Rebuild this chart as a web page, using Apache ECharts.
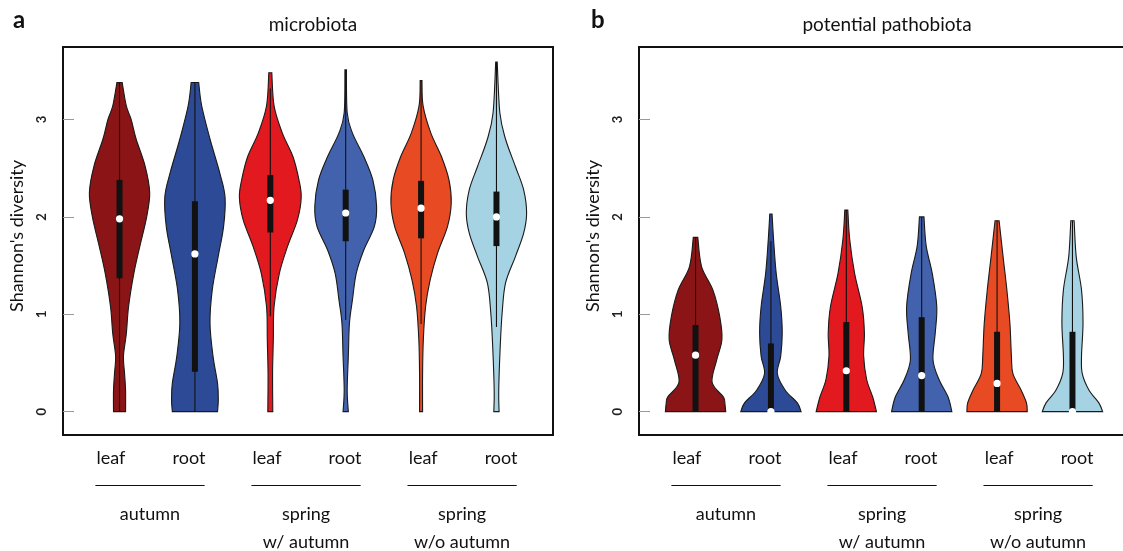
<!DOCTYPE html>
<html>
<head>
<meta charset="utf-8">
<script src="https://cdn.jsdelivr.net/npm/echarts@6/dist/echarts.min.js"></script>
<style>
html,body{margin:0;padding:0;background:#fff;}
#chart{width:1123px;height:551px;}
</style>
</head>
<body>
<div id="chart"></div>
<script>
// ---------- data ----------
const tissues = ['leaf', 'root', 'leaf', 'root', 'leaf', 'root'];
const groups = ['autumn', 'spring\nw/ autumn', 'spring\nw/o autumn'];
const yTicks = [0, 1, 2, 3];
const violinColors = ['#8B1516', '#2C4A96', '#E2191E', '#4262AD', '#E84A23', '#A6D3E3'];

// density profiles: [Shannon value, half-width in category units]
const microbiotaProfiles = [
  [[0,0.08],[0.22,0.08],[0.4,0.066],[0.57,0.052],[0.8,0.09],[1.08,0.12],[1.42,0.19],[1.7,0.27],[2.0,0.36],[2.25,0.40],[2.52,0.34],[2.8,0.22],[3.0,0.155],[3.14,0.09],[3.38,0.035]],
  [[0,0.30],[0.12,0.31],[0.29,0.30],[0.57,0.24],[0.91,0.20],[1.25,0.23],[1.6,0.31],[1.9,0.38],[2.2,0.40],[2.45,0.33],[2.8,0.20],[3.14,0.09],[3.38,0.05]],
  [[0,0.033],[0.39,0.03],[0.74,0.04],[1.08,0.05],[1.42,0.12],[1.7,0.23],[1.97,0.36],[2.2,0.41],[2.38,0.38],[2.62,0.30],[2.86,0.16],[3.14,0.05],[3.48,0.02]],
  [[0,0.035],[0.22,0.02],[0.57,0.035],[0.91,0.05],[1.15,0.09],[1.42,0.14],[1.66,0.24],[1.9,0.38],[2.11,0.41],[2.38,0.36],[2.62,0.24],[2.86,0.09],[3.07,0.02],[3.51,0.01]],
  [[0,0.02],[0.39,0.02],[0.74,0.03],[1.08,0.06],[1.35,0.12],[1.63,0.22],[1.9,0.35],[2.14,0.40],[2.38,0.37],[2.62,0.27],[2.86,0.13],[3.14,0.027],[3.4,0.012]],
  [[0,0.035],[0.22,0.03],[0.67,0.05],[1.01,0.075],[1.32,0.12],[1.59,0.25],[1.83,0.36],[2.04,0.40],[2.28,0.36],[2.52,0.25],[2.8,0.12],[3.07,0.045],[3.59,0.01]]
];
const microbiotaQ1 = [1.37, 0.41, 1.84, 1.75, 1.78, 1.70];
const microbiotaMedian = [1.98, 1.62, 2.17, 2.04, 2.09, 2.00];
const microbiotaQ3 = [2.38, 2.16, 2.43, 2.28, 2.37, 2.26];
const microbiotaWhiskerLow = [0, 0, 0.98, 0.94, 0.90, 0.87];
const microbiotaWhiskerHigh = [3.38, 3.38, 3.32, 3.51, 3.40, 3.59];

const pathobiotaProfiles = [
  [[0,0.40],[0.08,0.39],[0.15,0.37],[0.3,0.22],[0.53,0.28],[0.74,0.35],[0.98,0.32],[1.25,0.23],[1.49,0.08],[1.79,0.03]],
  [[0,0.40],[0.09,0.35],[0.22,0.19],[0.39,0.085],[0.57,0.13],[0.81,0.15],[1.08,0.13],[1.42,0.07],[1.77,0.035],[2.03,0.015]],
  [[0,0.40],[0.15,0.35],[0.33,0.27],[0.57,0.23],[0.81,0.24],[1.08,0.21],[1.42,0.11],[1.77,0.045],[2.07,0.02]],
  [[0,0.40],[0.15,0.35],[0.33,0.23],[0.53,0.15],[0.81,0.18],[1.08,0.20],[1.42,0.14],[1.7,0.06],[2.0,0.03]],
  [[0,0.40],[0.09,0.39],[0.22,0.32],[0.39,0.21],[0.57,0.19],[0.91,0.17],[1.25,0.13],[1.59,0.08],[1.96,0.027]],
  [[0,0.40],[0.09,0.35],[0.22,0.22],[0.39,0.13],[0.57,0.12],[0.91,0.14],[1.25,0.12],[1.59,0.05],[1.96,0.022]]
];
const pathobiotaQ1 = [0, 0, 0, 0, 0, 0];
const pathobiotaMedian = [0.58, 0.0, 0.42, 0.37, 0.29, 0.0];
const pathobiotaQ3 = [0.89, 0.70, 0.92, 0.97, 0.82, 0.82];
const pathobiotaWhiskerLow = [0, 0, 0, 0, 0, 0];
const pathobiotaWhiskerHigh = [1.79, 1.75, 2.07, 2.0, 1.96, 1.96];

// ---------- layout ----------
const FONT = 'Lato, "Open Sans", sans-serif';
const Y_MIN = -0.24, Y_MAX = 3.745;
const X_MIN = 0.25, X_MAX = 6.75;          // violin axis
const LX_MIN = 0.385, LX_MAX = 6.665;      // annotation (label) axis, slightly different scale as in the figure

function smoothSide(pts) {
  let d = '';
  for (let i = 0; i < pts.length - 1; i++) {
    const p0 = pts[Math.max(i - 1, 0)], p1 = pts[i], p2 = pts[i + 1], p3 = pts[Math.min(i + 2, pts.length - 1)];
    const c1 = [p1[0] + (p2[0] - p0[0]) / 6, p1[1] + (p2[1] - p0[1]) / 6];
    const c2 = [p2[0] - (p3[0] - p1[0]) / 6, p2[1] - (p3[1] - p1[1]) / 6];
    d += ' C' + c1[0] + ',' + c1[1] + ' ' + c2[0] + ',' + c2[1] + ' ' + p2[0] + ',' + p2[1];
  }
  return d;
}

function violinSeries(xIdx, yIdx, profiles, q1, med, q3, wlo, whi) {
  return {
    type: 'custom',
    xAxisIndex: xIdx, yAxisIndex: yIdx,
    clip: false,
    data: med.map((m, i) => [i + 1, m]),
    encode: { x: 0, y: 1 },
    renderItem: function (params, api) {
      const i = params.dataIndex;
      const x = api.value(0);
      const prof = profiles[i];
      const right = prof.map(p => api.coord([x + p[1], p[0]]));
      const left = prof.map(p => api.coord([x - p[1], p[0]])).reverse();
      let d = 'M' + right[0][0] + ',' + right[0][1] + smoothSide(right);
      d += ' L' + left[0][0] + ',' + left[0][1] + smoothSide(left) + ' Z';
      const lo = api.coord([x, wlo[i]]);
      const hi = api.coord([x, whi[i]]);
      const b1 = api.coord([x, q1[i]]);
      const b3 = api.coord([x, q3[i]]);
      const m = api.coord([x, med[i]]);
      return {
        type: 'group',
        children: [
          { type: 'path', shape: { pathData: d }, style: { fill: violinColors[i], stroke: '#1a1a1a', lineWidth: 1.1 } },
          { type: 'line', shape: { x1: lo[0], y1: lo[1], x2: hi[0], y2: hi[1] }, style: { stroke: '#111', lineWidth: 1.1 } },
          { type: 'rect', shape: { x: b1[0] - 3, y: b3[1], width: 6, height: b1[1] - b3[1] }, style: { fill: '#111' } },
          { type: 'circle', shape: { cx: m[0], cy: m[1], r: 3.6 }, style: { fill: '#fff' } }
        ]
      };
    }
  };
}

function groupLineSeries(xIdx, yIdx) {
  return {
    type: 'custom',
    xAxisIndex: xIdx, yAxisIndex: yIdx,
    clip: false, silent: true,
    data: groups.map((g, k) => [2 * k + 1.5, Y_MIN]),
    encode: { x: 0, y: 1 },
    renderItem: function (params, api) {
      const x = api.value(0);
      const a = api.coord([x - 0.7, Y_MIN]);
      const b = api.coord([x + 0.7, Y_MIN]);
      const y = Math.round(a[1] + 50) + 0.5;
      return { type: 'line', shape: { x1: a[0], y1: y, x2: b[0], y2: y }, style: { stroke: '#111', lineWidth: 1 } };
    }
  };
}

function xAxes(gridIndex) {
  const hidden = { axisLine: { show: false }, axisTick: { show: false }, splitLine: { show: false } };
  return [
    Object.assign({ type: 'value', gridIndex: gridIndex, min: X_MIN, max: X_MAX, axisLabel: { show: false } }, hidden),
    Object.assign({
      type: 'value', gridIndex: gridIndex, min: LX_MIN, max: LX_MAX, position: 'bottom',
      axisLabel: {
        customValues: tissues.map((t, i) => i + 1),
        formatter: v => tissues[Math.round(v) - 1] || '',
        margin: 14, fontSize: 18, fontFamily: FONT, color: '#111'
      }
    }, hidden),
    Object.assign({
      type: 'value', gridIndex: gridIndex, min: LX_MIN, max: LX_MAX, position: 'bottom',
      axisLabel: {
        customValues: groups.map((g, k) => 2 * k + 1.5),
        formatter: v => groups[Math.round((v - 1.5) / 2)] || '',
        margin: 65, fontSize: 18, lineHeight: 28, fontFamily: FONT, color: '#111'
      }
    }, hidden)
  ];
}

function yAxis(gridIndex) {
  return {
    type: 'value', gridIndex: gridIndex, min: Y_MIN, max: Y_MAX,
    name: "Shannon's diversity", nameLocation: 'middle', nameGap: 37,
    nameTextStyle: { fontSize: 18, fontFamily: FONT, color: '#111', padding: [0, 0, 0, 10] },
    axisLine: { show: false }, splitLine: { show: false },
    axisTick: { inside: true, length: 11, lineStyle: { color: '#999', width: 1 }, customValues: yTicks },
    axisLabel: { customValues: yTicks, rotate: 90, margin: 15, fontSize: 13, fontWeight: 'bold', fontFamily: FONT, color: '#222' }
  };
}

const chart = echarts.init(document.getElementById('chart'), null, { renderer: 'canvas' });
const xa = xAxes(0), xb = xAxes(1);
chart.setOption({
  animation: false,
  backgroundColor: '#fff',
  title: [
    { text: 'a', left: 8, top: 3, textStyle: { fontSize: 24, fontWeight: 'bold', fontFamily: FONT, color: '#111' } },
    { text: 'microbiota', left: 308, top: 10, textAlign: 'center', textStyle: { fontSize: 19, fontWeight: 'normal', fontFamily: FONT, color: '#111' } },
    { text: 'b', left: 586, top: 3, textStyle: { fontSize: 24, fontWeight: 'bold', fontFamily: FONT, color: '#111' } },
    { text: 'potential pathobiota', left: 882, top: 10, textAlign: 'center', textStyle: { fontSize: 19, fontWeight: 'normal', fontFamily: FONT, color: '#111' } }
  ],
  grid: [
    { left: 63, top: 47, width: 490, height: 388, show: true, borderColor: '#111', borderWidth: 2, backgroundColor: 'transparent', outerBoundsMode: 'none', containLabel: false },
    { left: 639, top: 47, width: 490, height: 388, show: true, borderColor: '#111', borderWidth: 2, backgroundColor: 'transparent', outerBoundsMode: 'none', containLabel: false }
  ],
  xAxis: xa.concat(xb),
  yAxis: [yAxis(0), yAxis(1)],
  series: [
    violinSeries(0, 0, microbiotaProfiles, microbiotaQ1, microbiotaMedian, microbiotaQ3, microbiotaWhiskerLow, microbiotaWhiskerHigh),
    violinSeries(3, 1, pathobiotaProfiles, pathobiotaQ1, pathobiotaMedian, pathobiotaQ3, pathobiotaWhiskerLow, pathobiotaWhiskerHigh),
    groupLineSeries(1, 0),
    groupLineSeries(4, 1)
  ]
});
</script>
</body>
</html>
